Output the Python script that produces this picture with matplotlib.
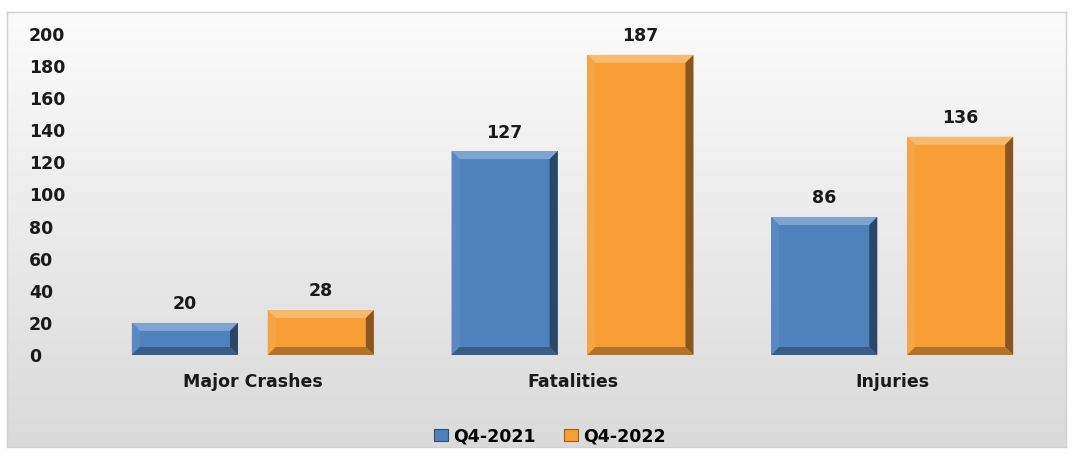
import numpy as np
import matplotlib
matplotlib.use("Agg")
import matplotlib.pyplot as plt
from matplotlib.patches import Polygon, Rectangle
from matplotlib.colors import to_rgb

categories = ["Major Crashes", "Fatalities", "Injuries"]
series_names = ["Q4-2021", "Q4-2022"]
q4_2021 = [20, 127, 86]
q4_2022 = [28, 187, 136]
yticks = [0, 20, 40, 60, 80, 100, 120, 140, 160, 180, 200]

colors = ["#4f81bd", "#f79e36"]
W, H = 1073, 454
fig = plt.figure(figsize=(W / 100, H / 100), dpi=100)
fig.patch.set_facecolor("white")

# gradient chart background with frame
bg = fig.add_axes([7 / W, 1 - 447 / H, 1059 / W, 435 / H])
grad = np.linspace(0.985, 0.855, 256).reshape(-1, 1)
bg.imshow(np.dstack([grad, grad, grad]), aspect="auto", extent=[0, 1, 0, 1], origin="upper")
bg.set_xlim(0, 1); bg.set_ylim(0, 1)
bg.set_xticks([]); bg.set_yticks([])
for s in bg.spines.values():
    s.set_color("#d0d0d0"); s.set_linewidth(1.0)

ax = fig.add_axes([93 / W, 1 - 355 / H, 959 / W, 321 / H])
ax.set_facecolor("none")
ax.set_xlim(-0.5, 2.5)
ax.set_ylim(0, 200)

x = np.arange(len(categories))
bw = 0.332
off = 0.2125
font = "DejaVu Sans"
fs = 12.5


def shade(c, f):
    r = np.array(to_rgb(c))
    if f >= 0:
        return tuple(r + (1 - r) * f)
    return tuple(r * (1 + f))


def bevel_bar(xc, h, color):
    x0, x1 = xc - bw / 2, xc + bw / 2
    bx = 8 * 3 / 959
    by = 8 * 200 / 321
    ax.add_patch(Rectangle((x0, 0), bw, h, facecolor=color, edgecolor="none", zorder=2))
    e = min(by, h / 2)
    # top
    ax.add_patch(Polygon([(x0, h), (x1, h), (x1 - bx, h - e), (x0 + bx, h - e)],
                         facecolor=shade(color, 0.28), edgecolor="none", zorder=3))
    # left
    ax.add_patch(Polygon([(x0, 0), (x0, h), (x0 + bx, h - e), (x0 + bx, e)],
                         facecolor=shade(color, 0.06), edgecolor="none", zorder=3))
    # right
    ax.add_patch(Polygon([(x1, 0), (x1, h), (x1 - bx, h - e), (x1 - bx, e)],
                         facecolor=shade(color, -0.45), edgecolor="none", zorder=3))
    # bottom
    ax.add_patch(Polygon([(x0, 0), (x1, 0), (x1 - bx, e), (x0 + bx, e)],
                         facecolor=shade(color, -0.28), edgecolor="none", zorder=3))
    ax.text(xc, h + 6, f"{h}", ha="center", va="bottom", fontsize=fs,
            fontweight="bold", family=font, color="#1a1a1a", zorder=4)


for xi, v in zip(x, q4_2021):
    bevel_bar(xi - off, v, colors[0])
for xi, v in zip(x, q4_2022):
    bevel_bar(xi + off, v, colors[1])

ax.set_yticks(yticks)
ax.set_yticklabels([str(t) for t in yticks], fontsize=fs, fontweight="bold",
                   family=font, color="#1a1a1a")
ax.set_xticks(x)
ax.set_xticklabels(categories, fontsize=fs, fontweight="bold", family=font, color="#1a1a1a")
ax.tick_params(axis="both", length=0)
ax.tick_params(axis="y", pad=46)
ax.tick_params(axis="x", pad=13)
for lab in ax.get_yticklabels():
    lab.set_horizontalalignment("left")
for s in ax.spines.values():
    s.set_visible(False)

# legend
handles = [Rectangle((0, 0), 1, 1, facecolor=c, edgecolor=shade(c, -0.4), linewidth=0.8) for c in colors]
leg = fig.legend(handles, series_names, loc="center", bbox_to_anchor=(550 / W, 1 - 436 / H),
                 ncol=2, frameon=False, handlelength=0.8, handleheight=0.7, handletextpad=0.3,
                 columnspacing=1.6, prop={"family": font, "weight": "bold", "size": fs})

fig.savefig("out.png", dpi=100, facecolor="white")
